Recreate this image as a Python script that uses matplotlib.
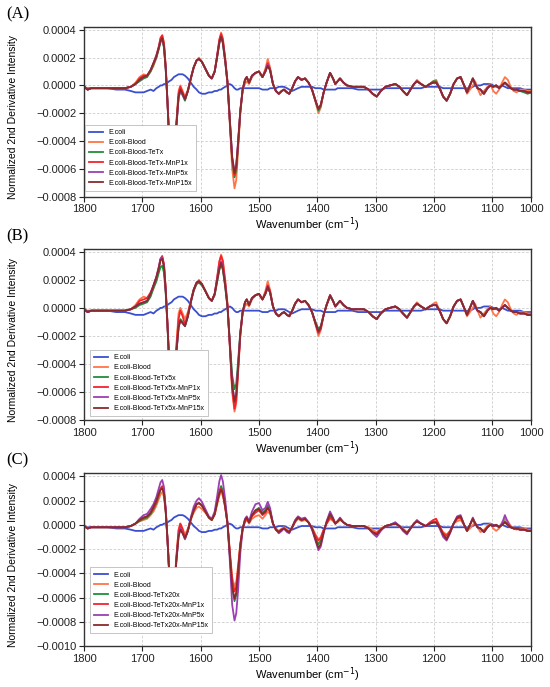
import numpy as np
import matplotlib
matplotlib.use('Agg')
import matplotlib.pyplot as plt
from matplotlib.ticker import FuncFormatter

plt.rcParams['font.family'] = ['Liberation Sans', 'DejaVu Sans']

# wavenumber grid (cm-1), values below are in units of 1e-5
wn = [1800, 1794, 1788, 1775, 1760, 1745, 1730, 1720, 1712, 1705,
      1698, 1692, 1686, 1681, 1676, 1672, 1669, 1666, 1663, 1660,
      1657, 1654, 1650, 1646, 1642, 1638, 1635, 1631, 1627, 1622,
      1617, 1612, 1607, 1603, 1598, 1592, 1586, 1581, 1576, 1572,
      1568, 1565, 1562, 1558, 1554, 1550, 1546, 1542, 1539, 1536,
      1532, 1528, 1524, 1521, 1517, 1512, 1506, 1500, 1494, 1489,
      1485, 1481, 1476, 1471, 1466, 1461, 1457, 1452, 1448, 1443,
      1438, 1433, 1427, 1421, 1415, 1409, 1403, 1398, 1394, 1389,
      1384, 1378, 1373, 1369, 1365, 1361, 1355, 1349, 1340, 1330,
      1320, 1312, 1305, 1298, 1291, 1283, 1275, 1266, 1259, 1253,
      1246, 1240, 1234, 1229, 1222, 1214, 1207, 1201, 1196, 1190,
      1184, 1178, 1172, 1166, 1160, 1154, 1148, 1143, 1138, 1133,
      1129, 1125, 1120, 1114, 1108, 1103, 1098, 1093, 1088, 1083,
      1078, 1073, 1068, 1063, 1058, 1052, 1045, 1039, 1033]

ecoli = [-2, -2, -2, -2, -2, -3, -3, -4, -5, -5,
         -5, -4, -3, -4, -2, -1, 0, 0, 1, 1,
         2, 3, 4, 6, 7, 8, 8, 8, 7, 5,
         2, -1, -3, -5, -6, -6, -5, -5, -4, -4,
         -3, -3, -2, -1, 0, 1, 0, -2, -3, -3,
         -2, -2, -2, -2, -2, -2, -2, -2, -3, -3,
         -3, -2, -2, -2, -1, -1, -1, -2, -3, -4,
         -3, -2, -1, -1, -1, -1, -2, -2, -2, -3,
         -3, -3, -3, -3, -2, -2, -2, -2, -2, -3,
         -3, -3, -3, -3, -3, -2, -2, -2, -2, -2,
         -2, -2, -2, -2, -2, -1, -1, -1, -1, -1,
         -2, -2, -2, -2, -2, -2, -2, -2, -2, -1,
         0, 0, 0, 1, 1, 1, 0, -1, -1, 0,
         -1, -2, -2, -2, -2, -2, -3, -3, -3]

blood_ab = [0, -3, -2, -2, -2, -2, -2, -1, 2, 6,
            8, 7, 10, 14, 20, 27, 34, 36, 31, 14,
            -11, -40, -68, -60, -28, -4, 0, -4, -8, -3,
            5, 13, 18, 20, 17, 12, 7, 5, 10, 21,
            33, 38, 34, 20, 3, -28, -60, -74, -68, -48,
            -20, -3, 1, 3, 1, 6, 9, 10, 6, 12,
            19, 13, 1, -4, -6, -4, -3, -5, -6, -2,
            3, 6, 4, 5, 2, -3, -12, -20, -16, -5,
            2, 9, 5, 1, 3, 5, 2, 0, -1, -1,
            -1, -3, -6, -8, -4, -1, 0, 1, -1, -4,
            -7, -3, 1, 4, 1, -1, 1, 3, 4, -2,
            -8, -11, -6, 1, 5, 6, 0, -6, -3, 0,
            3, -2, -7, -4, -1, 1, -4, -6, -3, 2,
            6, 4, -1, -4, -5, -3, -3, -4, -4]

a_tetx = [-1, -3, -2, -2, -2, -2, -2, -1, 1, 3,
          5, 6, 10, 15, 20, 26, 31, 33, 27, 11,
          -12, -40, -68, -60, -31, -9, -4, -7, -11, -4,
          5, 13, 18, 19, 17, 12, 7, 5, 10, 20,
          30, 36, 30, 17, 1, -26, -54, -66, -61, -44,
          -19, -3, 4, 6, 2, 7, 9, 10, 6, 10,
          15, 11, 1, -4, -6, -4, -3, -5, -6, -2,
          3, 6, 4, 5, 2, -3, -11, -18, -15, -5,
          2, 9, 5, 1, 3, 5, 2, 0, -1, -1,
          -1, -3, -6, -8, -4, -1, 0, 1, -1, -4,
          -7, -3, 1, 3, 1, -1, 1, 3, 3, -2,
          -8, -11, -6, 1, 5, 6, 0, -5, 0, 5,
          1, -2, -3, -6, -2, 0, -1, 0, -2, 0,
          2, 0, -2, -3, -3, -4, -5, -6, -5]

a_mnp1 = [-1, -3, -2, -2, -2, -2, -2, -1, 1, 5,
          7, 7, 11, 16, 22, 28, 34, 36, 30, 13,
          -12, -40, -68, -60, -29, -6, -1, -5, -10, -4,
          5, 13, 18, 19, 17, 12, 7, 5, 10, 21,
          33, 37, 33, 19, 2, -26, -53, -64, -59, -43,
          -18, -3, 4, 6, 2, 7, 9, 10, 6, 11,
          16, 12, 1, -4, -6, -4, -3, -5, -6, -2,
          3, 6, 4, 5, 2, -3, -11, -17, -14, -5,
          2, 9, 5, 1, 3, 5, 2, 0, -1, -1,
          -1, -3, -6, -8, -4, -1, 0, 1, -1, -4,
          -7, -3, 1, 3, 1, -1, 1, 2, 2, -2,
          -8, -11, -6, 1, 5, 6, 0, -5, 0, 5,
          1, -2, -3, -6, -2, 0, -1, 0, -2, 0,
          2, 0, -2, -3, -3, -4, -4, -5, -5]

a_mnp5 = [-1, -3, -2, -2, -2, -2, -2, -1, 1, 4,
          6, 7, 11, 16, 21, 27, 32, 34, 28, 12,
          -12, -40, -68, -60, -31, -9, -4, -7, -10, -4,
          5, 13, 18, 19, 17, 12, 7, 5, 10, 20,
          31, 35, 31, 18, 2, -25, -51, -62, -57, -41,
          -18, -3, 4, 6, 2, 7, 9, 10, 6, 10,
          15, 11, 1, -4, -6, -4, -3, -5, -6, -2,
          3, 6, 4, 5, 2, -3, -11, -17, -14, -5,
          2, 9, 5, 1, 3, 5, 2, 0, -1, -1,
          -1, -3, -6, -8, -4, -1, 0, 1, -1, -4,
          -7, -3, 1, 3, 1, -1, 1, 2, 2, -2,
          -8, -11, -6, 1, 5, 6, 0, -5, 0, 5,
          1, -2, -3, -6, -2, 0, -1, 0, -2, 0,
          2, 0, -2, -3, -3, -4, -4, -5, -5]

a_mnp15 = [-1, -3, -2, -2, -2, -2, -2, -1, 1, 4,
           6, 7, 11, 16, 21, 27, 32, 34, 28, 12,
           -12, -40, -68, -60, -30, -8, -3, -6, -10, -4,
           5, 13, 18, 19, 17, 12, 7, 5, 10, 20,
           31, 35, 31, 18, 2, -25, -52, -63, -58, -42,
           -18, -3, 4, 6, 2, 7, 9, 10, 6, 10,
           14, 11, 1, -4, -6, -4, -3, -5, -6, -2,
           3, 6, 4, 5, 2, -3, -11, -17, -14, -5,
           2, 9, 5, 1, 3, 5, 2, 0, -1, -1,
           -1, -3, -6, -8, -4, -1, 0, 1, -1, -4,
           -7, -3, 1, 3, 1, -1, 1, 2, 2, -2,
           -8, -11, -6, 1, 5, 6, 0, -5, 0, 5,
           1, -2, -3, -6, -2, 0, -1, 0, -2, 0,
           2, 0, -2, -3, -3, -4, -4, -5, -5]

b_tetx = [-1, -3, -2, -2, -2, -2, -2, -1, 0, 2,
          3, 4, 8, 14, 19, 25, 29, 30, 25, 10,
          -13, -40, -68, -60, -33, -14, -8, -10, -13, -6,
          4, 12, 17, 18, 16, 12, 7, 5, 9, 18,
          27, 31, 27, 15, 0, -24, -48, -58, -54, -39,
          -17, -3, 4, 6, 2, 7, 9, 10, 6, 10,
          14, 11, 1, -4, -6, -4, -3, -5, -6, -2,
          3, 6, 4, 5, 2, -3, -10, -15, -13, -5,
          2, 8, 5, 1, 3, 5, 2, 0, -1, -1,
          -1, -3, -6, -8, -4, -1, 0, 1, -1, -4,
          -7, -3, 1, 3, 1, -1, 1, 2, 2, -2,
          -8, -11, -6, 1, 5, 6, 0, -5, 0, 5,
          1, -2, -3, -6, -2, 0, -1, 0, -2, 0,
          2, 0, -2, -3, -3, -4, -4, -5, -5]

b_mnp1 = [-1, -3, -2, -2, -2, -2, -2, -1, 1, 5,
          6, 7, 11, 16, 22, 29, 35, 37, 31, 13,
          -12, -40, -68, -60, -30, -8, -2, -6, -12, -5,
          5, 13, 18, 19, 17, 12, 7, 5, 10, 21,
          33, 37, 33, 19, 2, -27, -58, -72, -66, -46,
          -19, -3, 4, 6, 2, 7, 9, 10, 6, 11,
          16, 12, 1, -4, -6, -4, -3, -5, -6, -2,
          3, 6, 4, 5, 2, -3, -11, -18, -15, -5,
          2, 9, 5, 1, 3, 5, 2, 0, -1, -1,
          -1, -3, -6, -8, -4, -1, 0, 1, -1, -4,
          -7, -3, 1, 3, 1, -1, 1, 2, 2, -2,
          -8, -11, -6, 1, 5, 6, 0, -5, 0, 5,
          1, -2, -3, -6, -2, 0, -1, 0, -2, 0,
          2, 0, -2, -3, -3, -4, -4, -5, -5]

b_mnp5 = [-1, -3, -2, -2, -2, -2, -2, -1, 1, 3,
          4, 5, 10, 16, 22, 29, 35, 36, 30, 12,
          -12, -40, -68, -60, -33, -14, -9, -11, -13, -6,
          4, 13, 18, 19, 17, 12, 7, 5, 10, 20,
          29, 33, 29, 17, 1, -26, -54, -66, -61, -43,
          -18, -3, 4, 6, 2, 7, 9, 10, 6, 10,
          15, 11, 1, -4, -6, -4, -3, -5, -6, -2,
          3, 6, 4, 5, 2, -3, -11, -17, -14, -5,
          2, 9, 5, 1, 3, 5, 2, 0, -1, -1,
          -1, -3, -6, -8, -4, -1, 0, 1, -1, -4,
          -7, -3, 1, 3, 1, -1, 1, 2, 2, -2,
          -8, -11, -6, 1, 5, 6, 0, -5, 0, 5,
          1, -2, -3, -6, -2, 0, -1, 0, -2, 0,
          2, 0, -2, -3, -3, -4, -4, -5, -5]

b_mnp15 = [-1, -3, -2, -2, -2, -2, -2, -1, 1, 3,
           4, 5, 10, 16, 22, 28, 34, 35, 29, 12,
           -12, -40, -68, -60, -33, -14, -9, -11, -13, -6,
           4, 13, 18, 19, 17, 12, 7, 5, 10, 19,
           28, 32, 28, 16, 1, -26, -55, -67, -62, -44,
           -18, -3, 4, 6, 2, 7, 9, 10, 6, 10,
           15, 11, 1, -4, -6, -4, -3, -5, -6, -2,
           3, 6, 4, 5, 2, -3, -11, -17, -14, -5,
           2, 9, 5, 1, 3, 5, 2, 0, -1, -1,
           -1, -3, -6, -8, -4, -1, 0, 1, -1, -4,
           -7, -3, 1, 3, 1, -1, 1, 2, 2, -2,
           -8, -11, -6, 1, 5, 6, 0, -5, 0, 5,
           1, -2, -3, -6, -2, 0, -1, 0, -2, 0,
           2, 0, -2, -3, -3, -4, -4, -5, -5]

blood_c = [0, -3, -2, -2, -2, -2, -2, -1, 1, 3,
           4, 5, 8, 11, 16, 21, 25, 27, 23, 10,
           -12, -40, -68, -60, -28, -4, 1, -3, -8, -3,
           4, 10, 14, 15, 13, 10, 6, 4, 8, 16,
           24, 27, 24, 14, 1, -22, -43, -51, -47, -34,
           -15, -3, 2, 4, 1, 5, 7, 8, 5, 8,
           11, 9, 1, -3, -5, -3, -2, -4, -5, -2,
           2, 5, 3, 4, 2, -2, -8, -12, -10, -4,
           1, 5, 3, 1, 2, 4, 2, 0, -1, -1,
           -1, -2, -4, -6, -3, -1, 0, 1, -1, -3,
           -6, -3, 1, 3, 1, -1, 1, 3, 3, -2,
           -6, -8, -5, 1, 3, 4, 0, -5, -3, 0,
           2, -2, -6, -4, -1, 1, -3, -5, -3, 2,
           5, 3, -1, -3, -4, -3, -3, -4, -4]

c_tetx = [-1, -3, -2, -2, -2, -2, -2, -1, 1, 3,
          5, 6, 9, 13, 18, 24, 29, 31, 26, 11,
          -12, -40, -68, -60, -31, -8, -2, -6, -11, -5,
          5, 12, 17, 18, 16, 11, 6, 4, 9, 19,
          28, 32, 28, 16, 1, -25, -52, -63, -58, -42,
          -18, -3, 4, 6, 2, 8, 12, 14, 10, 12,
          16, 12, 1, -4, -6, -4, -3, -5, -6, -2,
          3, 6, 4, 5, 2, -3, -11, -16, -13, -5,
          2, 8, 5, 1, 3, 5, 2, 0, -1, -1,
          -1, -3, -6, -8, -4, -1, 0, 2, -1, -4,
          -7, -3, 1, 3, 1, -1, 1, 2, 2, -2,
          -8, -11, -6, 1, 6, 7, 0, -5, 0, 5,
          1, -2, -3, -6, -2, 0, -1, 0, -2, 0,
          3, 0, -2, -3, -3, -4, -4, -5, -5]

c_mnp1 = [-1, -3, -2, -2, -2, -2, -2, -1, 1, 4,
          6, 7, 10, 14, 19, 25, 30, 32, 27, 12,
          -12, -40, -68, -60, -28, -5, 1, -4, -11, -5,
          5, 12, 17, 18, 16, 11, 6, 4, 9, 18,
          26, 30, 26, 15, 1, -23, -46, -55, -51, -37,
          -16, -3, 3, 5, 2, 7, 10, 12, 8, 10,
          14, 11, 1, -4, -6, -4, -3, -5, -6, -2,
          3, 6, 4, 5, 2, -3, -9, -13, -11, -4,
          1, 6, 4, 1, 3, 5, 2, 0, -1, -1,
          -1, -3, -6, -7, -4, -1, 0, 1, -1, -4,
          -7, -3, 1, 3, 1, -1, 2, 4, 5, -1,
          -7, -9, -5, 1, 5, 6, 0, -5, 0, 5,
          1, -2, -3, -6, -2, 0, -1, 0, -2, 0,
          2, 0, -2, -3, -3, -4, -4, -5, -5]

c_mnp5 = [-1, -3, -2, -2, -2, -2, -2, -1, 1, 5,
          8, 9, 13, 17, 23, 30, 35, 37, 31, 13,
          -12, -40, -68, -60, -31, -9, -3, -7, -12, -5,
          6, 15, 20, 22, 19, 13, 7, 5, 11, 23,
          36, 41, 36, 21, 2, -30, -66, -79, -73, -55,
          -23, -4, 5, 7, 3, 11, 17, 18, 12, 14,
          19, 14, 1, -4, -7, -5, -3, -6, -7, -2,
          4, 7, 5, 6, 2, -4, -13, -21, -18, -7,
          3, 11, 6, 1, 3, 6, 2, 0, -1, -1,
          -1, -3, -7, -10, -5, -1, 0, 2, -1, -5,
          -8, -3, 1, 4, 1, -1, 1, 2, 2, -3,
          -10, -13, -7, 1, 7, 8, 0, -5, 0, 6,
          1, -2, -3, -6, -2, 0, -1, 0, -2, 1,
          8, 2, -2, -3, -3, -4, -4, -5, -5]

c_mnp15 = [-1, -3, -2, -2, -2, -2, -2, -1, 1, 4,
           6, 7, 10, 15, 20, 26, 29, 30, 26, 11,
           -12, -40, -68, -60, -31, -10, -4, -7, -11, -5,
           5, 12, 17, 18, 16, 11, 6, 4, 9, 18,
           26, 29, 26, 15, 1, -25, -51, -61, -56, -40,
           -17, -3, 4, 6, 2, 8, 12, 13, 9, 11,
           14, 11, 1, -4, -6, -4, -3, -5, -6, -2,
           3, 6, 4, 5, 2, -3, -12, -19, -16, -6,
           2, 9, 5, 1, 3, 5, 2, 0, -1, -1,
           -1, -3, -6, -8, -4, -1, 0, 1, -1, -4,
           -7, -3, 1, 3, 1, -1, 1, 2, 2, -2,
           -8, -12, -6, 1, 6, 7, 0, -5, 0, 5,
           1, -2, -3, -6, -2, 0, -1, 0, -2, 0,
           2, 0, -2, -3, -3, -4, -4, -5, -5]

labels_a = ['E.coli', 'E.coli-Blood', 'E.coli-Blood-TeTx', 'E.coli-Blood-TeTx-MnP1x',
            'E.coli-Blood-TeTx-MnP5x', 'E.coli-Blood-TeTx-MnP15x']
labels_b = ['E.coli', 'E.coli-Blood', 'E.coli-Blood-TeTx5x', 'E.coli-Blood-TeTx5x-MnP1x',
            'E.coli-Blood-TeTx5x-MnP5x', 'E.coli-Blood-TeTx5x-MnP15x']
labels_c = ['E.coli', 'E.coli-Blood', 'E.coli-Blood-TeTx20x', 'E.coli-Blood-TeTx20x-MnP1x',
            'E.coli-Blood-TeTx20x-MnP5x', 'E.coli-Blood-TeTx20x-MnP15x']

xtick_pos = [1800, 1700, 1600, 1500, 1400, 1300, 1200, 1100, 1033]
xtick_lab = ['1800', '1700', '1600', '1500', '1400', '1300', '1200', '1100', '1000']

colors = ['#3a4fcf', '#ff7448', '#1f8f3a', '#f5222e', '#9c3fb4', '#8b2a2a']

panels = [
    ('(A)', [ecoli, blood_ab, a_tetx, a_mnp1, a_mnp5, a_mnp15], labels_a,
     (0.7137, 0.2470), (-0.0008, 0.00042), np.arange(-0.0008, 0.00041, 0.0002), (0.002, 0.034)),
    ('(B)', [ecoli, blood_ab, b_tetx, b_mnp1, b_mnp5, b_mnp15], labels_b,
     (0.3886, 0.2490), (-0.0008, 0.00042), np.arange(-0.0008, 0.00041, 0.0002), (0.012, 0.023)),
    ('(C)', [ecoli, blood_c, c_tetx, c_mnp1, c_mnp5, c_mnp15], labels_c,
     (0.0597, 0.2522), (-0.0010, 0.00043), np.arange(-0.0010, 0.00041, 0.0002), (0.012, 0.073)),
]

fig = plt.figure(figsize=(5.5, 6.87), dpi=100)
x = np.array(wn)

def fmt(v, pos):
    s = '%.4f' % abs(v)
    return ('\u2212' + s) if v < -1e-12 else s

for tag, series, labels, (bot, h), ylim, yticks, lpos in panels:
    ax = fig.add_axes([0.153, bot, 0.8127, h])
    for k in range(6):
        ax.plot(x, np.array(series[k]) * 1e-5, color=colors[k], lw=1.3, label=labels[k])
    ax.set_xlim(1800, 1033)
    ax.set_ylim(*ylim)
    ax.set_xticks(xtick_pos)
    ax.set_xticklabels(xtick_lab)
    ax.set_yticks(yticks)
    ax.yaxis.set_major_formatter(FuncFormatter(fmt))
    ax.tick_params(labelsize=8, length=3.5, width=0.8, pad=2, colors='#222222')
    ax.grid(True, ls=(0, (3, 2)), lw=0.6, color='#cccccc')
    for sp in ax.spines.values():
        sp.set_linewidth(1.0)
        sp.set_color('#333333')
    ax.set_xlabel('Wavenumber (cm$^{-1}$)', fontsize=8, labelpad=1)
    ax.set_ylabel('Normalized 2nd Derivative Intensity', fontsize=7.5)
    ax.yaxis.set_label_coords(-0.148, 0.47)
    leg = ax.legend(loc='lower left', bbox_to_anchor=lpos, borderaxespad=0,
                    fontsize=5, handlelength=2.0, handletextpad=0.8, labelspacing=0.45,
                    borderpad=0.6, fancybox=False, framealpha=1, edgecolor='#bbbbbb')
    leg.get_frame().set_linewidth(0.6)
    fig.text(0.012, bot + h + 0.018, tag, fontsize=12, family='Liberation Serif',
             va='center', ha='left')

fig.savefig('out.png', dpi=100)
